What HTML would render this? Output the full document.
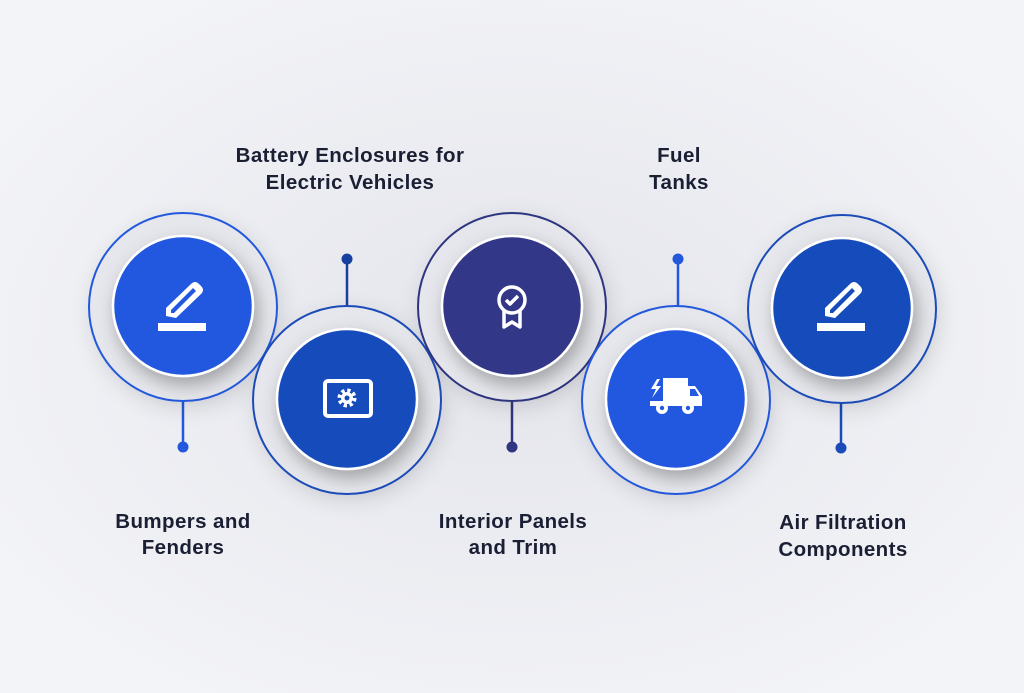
<!DOCTYPE html>
<html><head><meta charset="utf-8"><style>
html,body{margin:0;padding:0;width:1024px;height:693px;overflow:hidden;background:#eceef2}
svg{display:block}
text{font-family:"Liberation Sans",sans-serif;font-weight:700;font-size:20.5px;letter-spacing:0.4px;fill:#1b1f33;text-anchor:middle}
</style></head><body>
<svg width="1024" height="693" viewBox="0 0 1024 693">
<defs>
<radialGradient id="bg" cx="50%" cy="50%" r="60%">
<stop offset="0" stop-color="#e4e5ec"/><stop offset="1" stop-color="#f3f4f7"/></radialGradient>
<filter id="sh" x="-40%" y="-40%" width="180%" height="180%">
<feDropShadow dx="4" dy="8" stdDeviation="9" flood-color="#000" flood-opacity="0.3"/></filter>
<filter id="sh2" x="-40%" y="-40%" width="180%" height="180%">
<feDropShadow dx="3" dy="6" stdDeviation="10" flood-color="#000" flood-opacity="0.12"/></filter>
<g id="pen" fill="#fff">
<rect x="-25" y="17" width="48" height="8"/>
<path d="M-17 10 L-17 2 L8 -22 Q12 -26 16 -22 L18 -20 Q22 -16 18 -12 L-7 12 Z M-12 4 L-12 7 L-9 7 L13 -15 L10 -18 Z" fill-rule="evenodd"/>
</g>
</defs>
<rect width="1024" height="693" fill="url(#bg)"/>
<g stroke-width="2.5">
<line x1="183" y1="401" x2="183" y2="447" stroke="#2358dc"/><circle cx="183" cy="447" r="5.5" fill="#2358dc"/>
<line x1="347" y1="306" x2="347" y2="259" stroke="#163f9e"/><circle cx="347" cy="259" r="5.5" fill="#163f9e"/>
<line x1="512" y1="401" x2="512" y2="447" stroke="#2f3580"/><circle cx="512" cy="447" r="5.5" fill="#2f3580"/>
<line x1="678" y1="306" x2="678" y2="259" stroke="#2358dc"/><circle cx="678" cy="259" r="5.5" fill="#2358dc"/>
<line x1="841" y1="402" x2="841" y2="448" stroke="#1a4bb8"/><circle cx="841" cy="448" r="5.5" fill="#1a4bb8"/>
</g>
<g>
<circle cx="183" cy="307" r="94" fill="#e6e7ec" stroke="#2358dc" stroke-width="2" filter="url(#sh2)"/>
<circle cx="183" cy="306" r="70" fill="#2459e0" stroke="#fff" stroke-width="2.5" filter="url(#sh)"/>
<use href="#pen" x="183" y="306"/>

<circle cx="347" cy="400" r="94" fill="#e6e7ec" stroke="#1a4bb8" stroke-width="2" filter="url(#sh2)"/>
<circle cx="347" cy="399" r="70" fill="#184bbb" stroke="#fff" stroke-width="2.5" filter="url(#sh)"/>
<rect x="325" y="381" width="46" height="35" rx="3" fill="none" stroke="#fff" stroke-width="4"/>
<circle cx="347" cy="398" r="7" fill="none" stroke="#fff" stroke-width="5" stroke-dasharray="3 2.5"/>
<circle cx="347" cy="398" r="6" fill="#fff"/><circle cx="347" cy="398" r="2.5" fill="#184bbb"/>

<circle cx="512" cy="307" r="94" fill="#e6e7ec" stroke="#2f3580" stroke-width="2" filter="url(#sh2)"/>
<circle cx="512" cy="306" r="70" fill="#303787" stroke="#fff" stroke-width="2.5" filter="url(#sh)"/>
<g fill="none" stroke="#fff" stroke-width="3.5" stroke-linejoin="round">
<circle cx="512" cy="300" r="13"/>
<path d="M504 310 L504 327 L512 322 L520 327 L520 310"/>
<path d="M506 300 L510 304 L518 296"/>
</g>

<circle cx="676" cy="400" r="94" fill="#e6e7ec" stroke="#2358dc" stroke-width="2" filter="url(#sh2)"/>
<circle cx="676" cy="399" r="70" fill="#2459e0" stroke="#fff" stroke-width="2.5" filter="url(#sh)"/>
<g fill="#fff">
<path d="M663 378 L688 378 L688 386 L695 386 L702 396 L702 406 L650 406 L650 401 L663 401 Z"/>
<path d="M657 379 L651 389 L656 389 L652 398 L661 386 L656 386 L660 379 Z"/>
<circle cx="662" cy="408" r="6"/><circle cx="688" cy="408" r="6"/>
</g>
<circle cx="662" cy="408" r="2.2" fill="#2459e0"/><circle cx="688" cy="408" r="2.2" fill="#2459e0"/>
<path d="M690 389 L695 389 L699 396 L690 396 Z" fill="#2459e0"/>

<circle cx="842" cy="309" r="94" fill="#e6e7ec" stroke="#1a4bb8" stroke-width="2" filter="url(#sh2)"/>
<circle cx="842" cy="308" r="70" fill="#184bbb" stroke="#fff" stroke-width="2.5" filter="url(#sh)"/>
<use href="#pen" x="842" y="306"/>
</g>
<text x="350" y="162">Battery Enclosures for</text>
<text x="350" y="189">Electric Vehicles</text>
<text x="679" y="162">Fuel</text>
<text x="679" y="189">Tanks</text>
<text x="183" y="528">Bumpers and</text>
<text x="183" y="554">Fenders</text>
<text x="513" y="528">Interior Panels</text>
<text x="513" y="554">and Trim</text>
<text x="843" y="529">Air Filtration</text>
<text x="843" y="556">Components</text>
</svg>
</body></html>
